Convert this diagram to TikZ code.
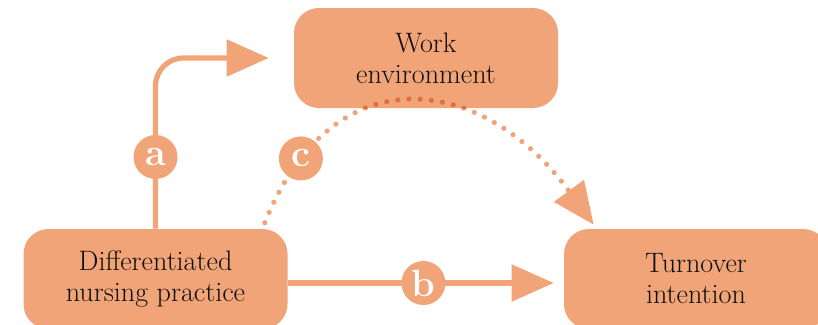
\documentclass[tikz,border=0pt]{standalone}
\usetikzlibrary{arrows.meta, positioning}
\definecolor{boxorange}{RGB}{240, 164, 119}
\definecolor{dotdark}{RGB}{226, 112, 62}
\definecolor{textdark}{RGB}{15, 15, 15}

\begin{document}
\begin{tikzpicture}[
    factor/.style={rectangle, fill=boxorange, rounded corners=0.625cm, minimum width=6.6cm, minimum height=2.5cm, align=center, text=textdark, font=\fontsize{20}{22}\selectfont},
    badge/.style={circle, fill=boxorange, minimum size=1.1cm, inner sep=0pt, text=white, font=\fontsize{27}{27}\selectfont\bfseries},
    effect/.style={-{Triangle[length=1.05cm, width=0.9cm]}, line width=1.3mm, color=boxorange},
    indirect/.style={effect, line width=1.3mm, line cap=round, dash pattern=on 0pt off 2.8mm}
]

% Frame
\clip (0, 0) rectangle (20.45, -8.1);

% Work environment
\node[factor] (work) at (10.65, -1.45) {Work\\environment};

% Differentiated nursing practice
\node[factor] (practice) at (3.8875, -6.975) {Differentiated\\nursing practice};

% Turnover intention
\node[factor] (turnover) at (17.4, -6.975) {Turnover\\intention};

% Ends of the indirect path
\coordinate (cstart) at ([xshift=-5.75mm, yshift=1.5mm]practice.north east);
\coordinate (cend) at ([xshift=7.5mm, yshift=1mm]turnover.north west);

% Path a
\draw[effect, rounded corners=0.7cm] (practice.north) |- node[badge, pos=0.21] (la) {a} ([xshift=-6.25mm]work.west);

% Path b
\draw[effect] ([yshift=-1mm]practice.east) -- node[badge, pos=0.51] (lb) {b} ([xshift=-2.5mm, yshift=-1mm]turnover.west);

% Path c
\draw[indirect] (cstart) .. controls +(1.725, 4.29) and +(-2.75, 3.75) .. (cend) node[badge, pos=0.15] (lc) {c};

% Dots over the box
\begin{scope}
    \clip (work.south west) rectangle (work.north east);
    \draw[indirect, color=dotdark] (cstart) .. controls +(1.725, 4.29) and +(-2.75, 3.75) .. (cend);
\end{scope}

\end{tikzpicture}
\end{document}
